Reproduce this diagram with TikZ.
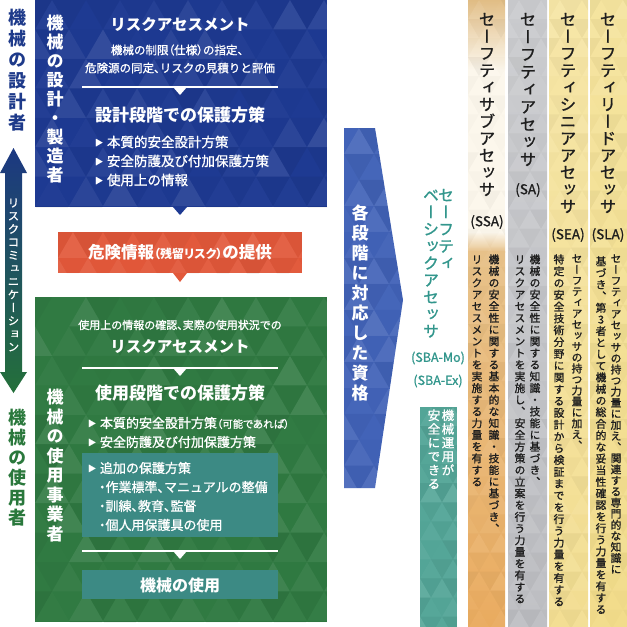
\documentclass[tikz,border=0pt]{standalone}
\usepackage{fontspec}
\setmainfont{Noto Sans CJK JP}
\newfontfamily\jv[RawFeature={+vert}]{Noto Sans CJK JP}
\newfontfamily\jvm[RawFeature={+vert},FakeBold=1.1]{Noto Sans CJK JP}
\newfontfamily\jm[FakeBold=1.1]{Noto Sans CJK JP}
\newfontfamily\jp[RawFeature={+palt}]{Noto Sans CJK JP}
\newfontfamily\jpm[RawFeature={+palt},FakeBold=1.1]{Noto Sans CJK JP}
\makeatletter
\let\vf\jv
\def\vt@end{\vt@end@}
\def\vt@loop#1{\ifx#1\vt@end\else\hbox to 1em{\vrule height .88em depth .12em width 0pt\hss#1\hss}\expandafter\vt@loop\fi}
\newcommand\vtext[2]{\vbox{\vf\baselineskip=#1\lineskip=0pt\lineskiplimit=-\maxdimen\vt@loop#2\vt@end}}
\makeatother
\newcommand\fs[1]{\fontsize{#1}{#1}\selectfont}
\newcommand\med{\let\vf\jvm\let\jp\jpm\jm}
\newcommand\tri{\makebox[12pt][l]{\raisebox{1.5pt}{\fs{8}▶}}}
\definecolor{dsg}{RGB}{30,58,138}
\definecolor{usr}{RGB}{42,120,60}
\definecolor{arrtop}{RGB}{28,56,130}
\definecolor{arrbot}{RGB}{36,112,58}
\definecolor{bbox}{RGB}{30,58,146}
\definecolor{redb}{RGB}{226,88,58}
\definecolor{gbox}{RGB}{48,122,66}
\definecolor{tealin}{RGB}{60,138,132}
\definecolor{chev}{RGB}{66,99,184}
\definecolor{sbab}{RGB}{84,166,152}
\definecolor{sbat}{RGB}{50,150,140}
\definecolor{tanA}{RGB}{226,190,134}
\definecolor{cream}{RGB}{252,247,236}
\definecolor{tanB}{RGB}{232,194,138}
\definecolor{orng}{RGB}{234,172,96}
\definecolor{gryA}{RGB}{204,205,208}
\definecolor{gryB}{RGB}{190,191,195}
\definecolor{yelA}{RGB}{246,230,166}
\definecolor{yelB}{RGB}{243,222,146}
\definecolor{yelC}{RGB}{245,228,158}
\definecolor{yelD}{RGB}{242,220,138}
\definecolor{dtext}{RGB}{30,30,30}
\newcommand\mosaic[7]{%
\begin{scope}
\clip #1;
\pgfmathsetmacro\mh{#6*0.866}%
\pgfmathtruncatemacro\nr{(#5-#3)/\mh+1}%
\pgfmathtruncatemacro\nc{(#4-#2)/#6+2}%
\foreach \rr in {0,...,\nr}{%
  \pgfmathsetmacro\yy{#3+\rr*\mh}%
  \pgfmathsetmacro\xo{#2+mod(\rr,2)*#6/2-#6}%
  \foreach \kk in {0,...,\nc}{%
    \pgfmathsetmacro\xa{\xo+\kk*#6}%
    \pgfmathsetmacro\oa{rnd*#7}%
    \pgfmathsetmacro\ob{rnd*#7*0.6}%
    \fill[white,opacity=\oa] (\xa,\yy+\mh) -- (\xa+#6/2,\yy) -- (\xa+#6,\yy+\mh) -- cycle;
    \fill[black,opacity=\ob] (\xa+#6/2,\yy) -- (\xa+#6,\yy+\mh) -- (\xa+#6*1.5,\yy) -- cycle;
  }}
\end{scope}}
\begin{document}
\begin{tikzpicture}[x=1pt,y=-1pt,
  every node/.style={inner sep=0pt,outer sep=0pt},
  box/.style={anchor=north west,inner sep=0pt,draw=none},
  vl/.style={anchor=north},
  ht/.style={anchor=center,text=white},
  bl/.style={anchor=west,text=white}]
\pgfmathsetseed{11}
\useasboundingbox (0,0) rectangle (627,627);
% ---------- left labels and arrow
\node[vl,text=dsg,font=\bfseries\fs{18}] (designer) at (18,9) {\vtext{21pt}{機械の設計者}};
\coordinate (atop) at (13.5,148);
\coordinate (abot) at (13.5,393);
\shade[top color=arrtop,bottom color=arrbot] (atop) -- (27,173) -- (22,173) -- (22,372) -- (27,372) -- (abot) -- (0,372) -- (5,372) -- (5,173) -- (0,173) -- cycle;
\node[vl,text=white,font=\fs{11.5}\med] (riskcom) at (13.5,197) {\vtext{13.1pt}{リスクコミュニケーション}};
\node[vl,text=usr,font=\bfseries\fs{18}] (user) at (18,409) {\vtext{20pt}{機械の使用者}};
% ---------- design box
\node[box,fill=bbox,minimum width=292pt,minimum height=207pt] (design) at (35,0) {};
\mosaic{(35,0) rectangle (327,207)}{35}{0}{327}{207}{34}{0.10}
\fill[bbox] (173,207) -- (187,207) -- (180,215) -- cycle;
\node[vl,text=white,font=\bfseries\fs{17}] (maker) at (55,15) {\vtext{19pt}{機械の設計・製造者}};
\node[ht,font=\bfseries\fs{15.5}] (ra1) at (180,25) {リスクアセスメント};
\node[ht,font=\fs{11.5}\med] (ra1a) at (180,50) {機械の制限{\jp（}仕様{\jp）}の指定、};
\node[ht,font=\fs{11.5}\med] (ra1b) at (180,68) {危険源の同定{\jp、}リスクの見積りと評価};
\coordinate (l1a) at (82,87); \coordinate (l1b) at (278,87);
\draw[white,line width=1.2pt] (l1a) -- (l1b);
\fill[white] (173,87) -- (187,87) -- (180,95) -- cycle;
\node[ht,font=\bfseries\fs{17}] (pd) at (180,115) {設計段階での保護方策};
\node[bl,font=\fs{13.5}\med] (b1) at (95,142) {\tri 本質的安全設計方策};
\node[bl,font=\fs{13.5}\med] (b2) at (95,161) {\tri 安全防護及び付加保護方策};
\node[bl,font=\fs{13.5}\med] (b3) at (95,180) {\tri 使用上の情報};
% ---------- hazard info
\node[box,fill=redb,minimum width=244pt,minimum height=41pt] (haz) at (58,232) {};
\mosaic{(58,232) rectangle (302,273)}{58}{232}{302}{273}{30}{0.09}
\fill[redb] (173,273) -- (187,273) -- (180,282) -- cycle;
\node[ht,font=\bfseries] (hazt) at (180,252) {{\fs{16.5}危険情報}{\fs{12}\jp（残留リスク）}{\fs{16.5}の提供}};
% ---------- user box
\node[box,fill=gbox,minimum width=292pt,minimum height=325pt] (usebox) at (35,297) {};
\mosaic{(35,297) rectangle (327,622)}{35}{297}{327}{622}{34}{0.10}
\node[vl,text=white,font=\bfseries\fs{17}] (operator) at (55,389) {\vtext{19.5pt}{機械の使用事業者}};
\node[ht,font=\fs{11}\med] (ra2a) at (180,325) {使用上の情報の確認{\jp、}実際の使用状況での};
\node[ht,font=\bfseries\fs{15.5}] (ra2) at (180,347) {リスクアセスメント};
\coordinate (l2a) at (82,368); \coordinate (l2b) at (278,368);
\draw[white,line width=1.2pt] (l2a) -- (l2b);
\fill[white] (173,368) -- (187,368) -- (180,376) -- cycle;
\node[ht,font=\bfseries\fs{17}] (pu) at (180,393) {使用段階での保護方策};
\node[bl,font=\fs{13}\med] (u1) at (88,423) {\tri 本質的安全設計方策{\fs{10.5}\jp（可能であれば）}};
\node[bl,font=\fs{13}\med] (u2) at (88,442) {\tri 安全防護及び付加保護方策};
\node[box,fill=tealin,minimum width=196pt,minimum height=84pt] (addbox) at (82,453) {};
\node[bl,font=\fs{13}\med] (u3) at (88,468) {\tri 追加の保護方策};
\node[bl,font=\fs{13}\med] (u4) at (99,487) {{\jp・}作業標準{\jp、}マニュアルの整備};
\node[bl,font=\fs{13}\med] (u5) at (99,506) {{\jp・}訓練{\jp、}教育{\jp、}監督};
\node[bl,font=\fs{13}\med] (u6) at (99,525) {{\jp・}個人用保護具の使用};
\coordinate (l3a) at (82,551); \coordinate (l3b) at (278,551);
\draw[white,line width=1.2pt] (l3a) -- (l3b);
\fill[white] (173,551) -- (187,551) -- (180,559) -- cycle;
\node[box,fill=tealin,minimum width=196pt,minimum height=29pt] (usebox2) at (82,570) {};
\node[ht,font=\bfseries\fs{16}] (use) at (180,585) {機械の使用};
% ---------- chevron
\fill[chev] (344,128) -- (375,128) -- (403,300) -- (375,488) -- (344,488) -- cycle;
\mosaic{(344,128) -- (375,128) -- (403,300) -- (375,488) -- (344,488) -- cycle}{344}{128}{403}{488}{30}{0.10}
\node[vl,text=white,font=\bfseries\fs{17}] (qual) at (360,205) {\vtext{20pt}{各段階に対応した資格}};
% ---------- SBA
\node[vl,text=sbat,font=\fs{16}\med] (sba1) at (446,187) {\vtext{17pt}{セーフティ}};
\node[vl,text=sbat,font=\fs{16}\med] (sba2) at (431,187) {\vtext{17pt}{ベーシックアセッサ}};
\node[ht,text=sbat,font=\fs{12.5}\med] (sbamo) at (438,358) {(SBA-Mo)};
\node[ht,text=sbat,font=\fs{12.5}\med] (sbaex) at (438,381) {(SBA-Ex)};
\node[box,fill=sbab,minimum width=37pt,minimum height=220pt] (sbabox) at (420,407) {};
\mosaic{(420,407) rectangle (457,627)}{420}{407}{457}{627}{22}{0.10}
\node[vl,text=white,font=\fs{12.5}\med] (sbad1) at (448,409) {\vtext{13.7pt}{機械運用が}};
\node[vl,text=white,font=\fs{12.5}\med] (sbad2) at (434,409) {\vtext{13.7pt}{安全にできる}};
% ---------- column SSA
\shade[top color=tanA,bottom color=cream] (468,0) rectangle (505,70);
\fill[cream] (468,69.5) rectangle (505,232.5);
\shade[top color=cream,bottom color=tanB] (468,232) rectangle (505,252);
\shade[top color=tanB,bottom color=orng] (468,251.5) rectangle (505,627);
\node[box,minimum width=37pt,minimum height=627pt] (colssa) at (468,0) {};
\mosaic{(468,0) rectangle (505,627)}{468}{0}{505}{627}{22}{0.07}
% ---------- column SA
\node[box,top color=gryA,bottom color=gryB,minimum width=39pt,minimum height=627pt] (colsa) at (508,0) {};
\mosaic{(508,0) rectangle (547,627)}{508}{0}{547}{627}{22}{0.07}
% ---------- column SEA
\node[box,top color=yelA,bottom color=yelB,minimum width=39pt,minimum height=627pt] (colsea) at (549,0) {};
\mosaic{(549,0) rectangle (588,627)}{549}{0}{588}{627}{22}{0.07}
% ---------- column SLA
\node[box,top color=yelC,bottom color=yelD,minimum width=37pt,minimum height=627pt] (colsla) at (590,0) {};
\mosaic{(590,0) rectangle (627,627)}{590}{0}{627}{627}{22}{0.07}
% titles
\node[vl,text=dtext,font=\fs{16.5}\med] (tssa) at (487,11) {\vtext{17pt}{セーフティサブアセッサ}};
\node[ht,text=dtext,font=\fs{13.5}\med] (assa) at (487,222) {(SSA)};
\node[vl,text=dtext,font=\fs{16.5}\med] (tsa) at (528,11) {\vtext{17.5pt}{セーフティアセッサ}};
\node[ht,text=dtext,font=\fs{13.5}\med] (asa) at (528,190) {(SA)};
\node[vl,text=dtext,font=\fs{16.5}\med] (tsea) at (568,11) {\vtext{17pt}{セーフティシニアアセッサ}};
\node[ht,text=dtext,font=\fs{13.5}\med] (asea) at (568,235) {(SEA)};
\node[vl,text=dtext,font=\fs{16.5}\med] (tsla) at (608,11) {\vtext{17pt}{セーフティリードアセッサ}};
\node[ht,text=dtext,font=\fs{13.5}\med] (asla) at (608,235) {(SLA)};
% descriptions
\node[vl,text=dtext,font=\fs{10.8}\med] (d1r) at (494,254) {\vtext{11.7pt}{機械の安全性に関する基本的な知識・技能に基づき、}};
\node[vl,text=dtext,font=\fs{10.8}\med] (d1l) at (477,254) {\vtext{11.7pt}{リスクアセスメントを実施する力量を有する}};
\node[vl,text=dtext,font=\fs{10.8}\med] (d2r) at (535,254) {\vtext{11.7pt}{機械の安全性に関する知識・技能に基づき、}};
\node[vl,text=dtext,font=\fs{10.8}\med] (d2l) at (520,254) {\vtext{11.7pt}{リスクアセスメントを実施し、安全方策の立案を行う力量を有する}};
\node[vl,text=dtext,font=\fs{10.8}\med] (d3r) at (577,253) {\vtext{11pt}{セーフティアセッサの持つ力量に加え、}};
\node[vl,text=dtext,font=\fs{10.8}\med] (d3l) at (559,254) {\vtext{11.8pt}{特定の安全技術分野に関する設計から検証までを行う力量を有する}};
\node[vl,text=dtext,font=\fs{10.8}\med] (d4r) at (616,253) {\vtext{11.1pt}{セーフティアセッサの持つ力量に加え、関連する専門的な知識に}};
\node[vl,text=dtext,font=\fs{10.8}\med] (d4l) at (601,256) {\vtext{11.6pt}{基づき、第3者として機械の総合的な妥当性確認を行う力量を有する}};
\end{tikzpicture}
\end{document}
